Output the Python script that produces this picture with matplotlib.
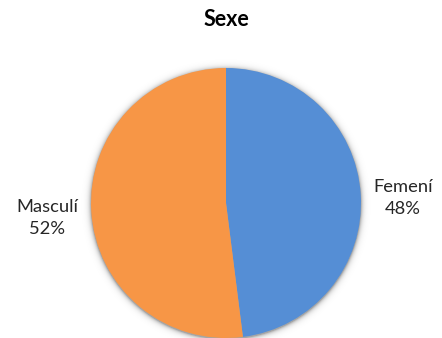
import numpy as np
import matplotlib
matplotlib.use("Agg")
import matplotlib.pyplot as plt

categories = ["Femení", "Masculí"]
values = [48, 52]
colors = ["#558ED5", "#F79646"]
title = "Sexe"

W, H = 442, 338
fig = plt.figure(figsize=(W / 100, H / 100), dpi=100)
ax = fig.add_axes([0, 0, 1, 1])
ax.set_xlim(0, W)
ax.set_ylim(0, H)
ax.set_aspect("equal")
ax.axis("off")

cx, cy, r = 226, H - 203, 135

# soft drop shadow around the pie
yy, xx = np.mgrid[0:H, 0:W]
d = np.hypot(xx + 0.5 - cx, (H - yy - 0.5) - (cy - 1)) - r
shadow = np.clip(np.exp(-np.clip(d, 0, None) / 2.2) * 0.35, 0, 1)
rgba = np.zeros((H, W, 4))
rgba[..., 3] = shadow
ax.imshow(rgba, extent=(0, W, 0, H), zorder=0, interpolation="bilinear")

ax.pie(values, colors=colors, startangle=90, counterclock=False,
       center=(cx, cy), radius=r, frame=True,
       wedgeprops=dict(linewidth=0, zorder=1))
ax.set_xlim(0, W)
ax.set_ylim(0, H)
ax.axis("off")

font = "Lato"
label_pos = [(403, H - 198), (47, H - 218)]
for name, v, (x, y) in zip(categories, values, label_pos):
    ax.text(x, y, f"{name}\n{v}%", ha="center", va="center",
            fontsize=13.2, family=font, color="#262626", linespacing=1.5)

fig.text(226 / W, 1 - 20 / H, title, ha="center", va="center",
         fontsize=15.5, fontweight="bold", family=font, color="black")

fig.savefig("out.png", dpi=100)
